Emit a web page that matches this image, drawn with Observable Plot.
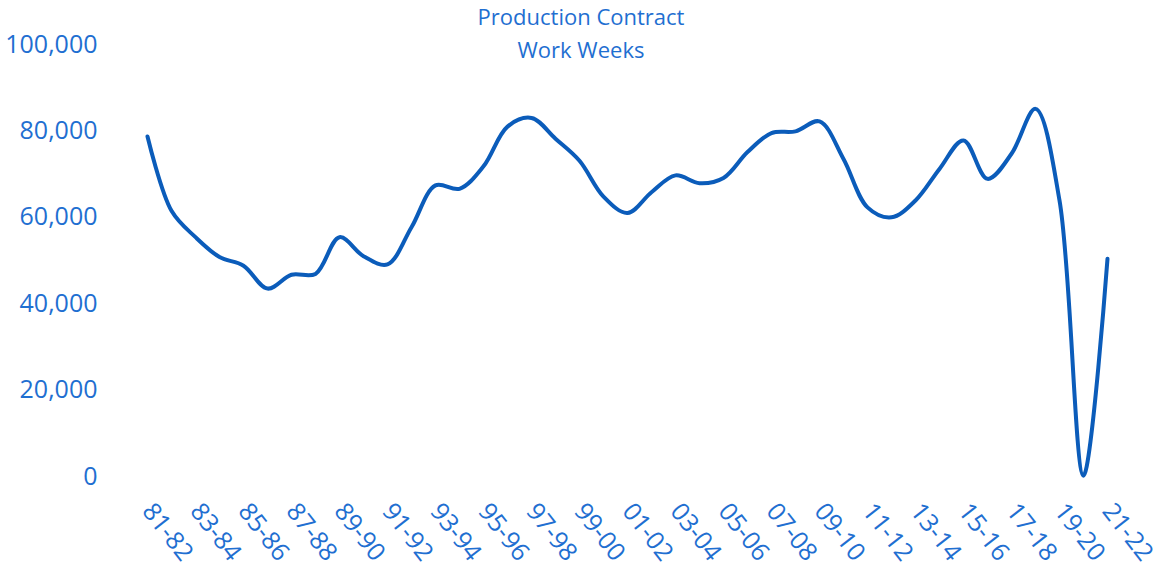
<!DOCTYPE html>
<html>
<head>
<meta charset="utf-8">
<script src="https://cdn.jsdelivr.net/npm/d3@7"></script>
<script src="https://cdn.jsdelivr.net/npm/@observablehq/plot@0.6"></script>
<style>
  body { margin: 0; background: #fff; }
  #wrap { position: relative; width: 1166px; height: 572px; font-family: "Open Sans", sans-serif; }
  #title { position: absolute; left: 0; width: 1162px; top: 0px; text-align: center; color: #1f6fd1; font-size: 22px; line-height: 33px; }
</style>
</head>
<body>
<div id="wrap">
  <div id="chart"></div>
  <div id="title">Production Contract<br>Work Weeks</div>
</div>
<script>
const seasons = ["81-82","82-83","83-84","84-85","85-86","86-87","87-88","88-89","89-90","90-91",
  "91-92","92-93","93-94","94-95","95-96","96-97","97-98","98-99","99-00","00-01",
  "01-02","02-03","03-04","04-05","05-06","06-07","07-08","08-09","09-10","10-11",
  "11-12","12-13","13-14","14-15","15-16","16-17","17-18","18-19","19-20","20-21","21-22"];
const workWeeks = [78700, 61500, 55400, 50800, 48800, 43500, 46700, 46900, 55400, 51000,
  49100, 57700, 67400, 66600, 71800, 81000, 83000, 78200, 73100, 64800,
  61000, 65800, 69700, 67900, 69100, 75100, 79500, 79900, 82200, 73500,
  62300, 60000, 63900, 71200, 77800, 68900, 74700, 85100, 63900, 200, 50400];
const tickLabels = seasons.filter((d, i) => i % 2 === 0);
const yTicks = [0, 20000, 40000, 60000, 80000, 100000];

const data = seasons.map((s, i) => ({season: s, value: workWeeks[i]}));
const textColor = "#1f6fd1";

const chart = Plot.plot({
  width: 1166,
  height: 572,
  marginLeft: 137,
  marginRight: 49,
  marginTop: 44,
  marginBottom: 96,
  style: {fontFamily: "'Open Sans', sans-serif", background: "#fff"},
  x: {type: "point", domain: seasons, padding: 0},
  y: {domain: [0, 100000]},
  marks: [
    Plot.axisY({ticks: yTicks, tickFormat: d => d3.format(",")(d), tickSize: 0, tickPadding: 40,
      fontSize: 25, color: textColor, label: null}),
    Plot.axisX({ticks: tickLabels, tickSize: 0, tickRotate: 52, tickPadding: 30,
      fontSize: 25, color: textColor, label: null}),
    Plot.line(data, {x: "season", y: "value", curve: "catmull-rom", stroke: "#0b5cba", strokeWidth: 4})
  ]
});
document.getElementById("chart").appendChild(chart);
</script>
</body>
</html>
